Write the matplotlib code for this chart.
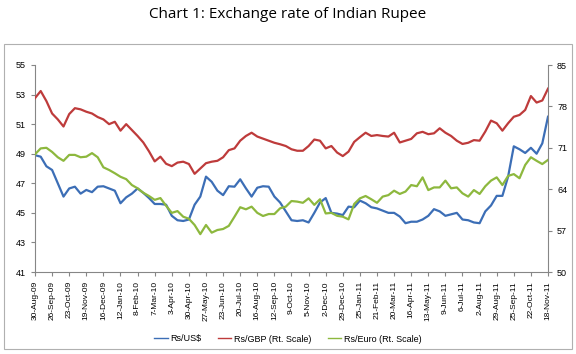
#Chart 1: exchange rate of Indian Rupee (Rs/US$ left scale, Rs/GBP and Rs/Euro right scale)
import numpy as np
import pandas as pd
import matplotlib
matplotlib.use('Agg')
from matplotlib import pyplot as plt
from matplotlib.patches import Rectangle

#readings every 9 days starting 30-Aug-09
start_date = '2009-08-30'
step_days = 9

usd = [48.9, 48.8, 48.15, 47.9, 47.0, 46.1, 46.65, 46.77, 46.3, 46.55,
       46.4, 46.77, 46.8, 46.65, 46.5, 45.65, 46.05, 46.3, 46.65, 46.35,
       46.0, 45.6, 45.6, 45.55, 44.8, 44.5, 44.45, 44.55, 45.55, 46.1,
       47.45, 47.1, 46.5, 46.2, 46.8, 46.77, 47.27, 46.66, 46.1, 46.7,
       46.8, 46.77, 46.1, 45.7, 45.1, 44.5, 44.45, 44.5, 44.35, 45.0,
       45.7, 46.0, 45.0, 44.95, 44.85, 45.42, 45.38, 45.83, 45.65, 45.38,
       45.3, 45.15, 45.0, 45.0, 44.75, 44.3, 44.4, 44.4, 44.55, 44.8,
       45.25, 45.1, 44.8, 44.9, 45.0, 44.55, 44.5, 44.35, 44.3, 45.1,
       45.5, 46.15, 46.15, 47.45, 49.5, 49.3, 49.05, 49.4, 49.0, 49.7,
       51.5]

gbp = [79.4, 80.6, 78.9, 76.8, 75.8, 74.6, 76.7, 77.7, 77.5, 77.1,
       76.8, 76.2, 75.8, 75.0, 75.4, 73.9, 75.0, 74.0, 73.0, 71.9,
       70.4, 68.7, 69.5, 68.3, 67.9, 68.5, 68.65, 68.26, 66.6, 67.5,
       68.4, 68.65, 68.8, 69.4, 70.6, 70.9, 72.2, 73.0, 73.55, 72.9,
       72.55, 72.2, 71.85, 71.6, 71.3, 70.75, 70.5, 70.5, 71.3, 72.4,
       72.2, 70.9, 71.3, 70.2, 69.6, 70.35, 72.0, 72.8, 73.55, 73.0,
       73.15, 73.0, 72.9, 73.55, 71.9, 72.2, 72.5, 73.45, 73.7, 73.3,
       73.45, 74.3, 73.55, 73.0, 72.2, 71.65, 71.85, 72.3, 72.2, 73.75,
       75.6, 75.15, 73.9, 75.15, 76.25, 76.55, 77.4, 79.75, 78.65, 79.0,
       81.0]

eur = [69.9, 70.9, 71.0, 70.3, 69.4, 68.8, 69.8, 69.8, 69.4, 69.5,
       70.1, 69.4, 67.7, 67.25, 66.7, 66.1, 65.7, 64.7, 64.15, 63.4,
       62.85, 62.2, 62.5, 61.2, 60.0, 60.3, 59.35, 59.0, 57.95, 56.4,
       57.95, 56.65, 57.1, 57.27, 57.8, 59.35, 60.95, 60.6, 61.05, 60.0,
       59.47, 59.8, 59.8, 60.77, 61.05, 62.0, 61.9, 61.7, 62.45, 61.35,
       62.3, 59.9, 60.0, 59.5, 59.35, 58.9, 61.5, 62.45, 62.85, 62.3,
       61.7, 62.75, 63.0, 63.75, 63.2, 63.6, 64.7, 64.5, 66.0, 63.85,
       64.3, 64.3, 65.45, 64.15, 64.3, 63.3, 62.75, 63.85, 63.2, 64.5,
       65.45, 66.0, 64.7, 66.25, 66.55, 65.85, 68.1, 69.4, 68.8, 68.25,
       68.95]

dates = pd.date_range(start_date, periods=len(usd), freq='%dD' % step_days)

#x tick labels every 27 days
tick_dates = pd.date_range('2009-08-30', '2011-11-18', freq='27D')
tick_labels = ['%d-%s' % (d.day, d.strftime('%b-%y')) for d in tick_dates]

left_ticks = [41, 43, 45, 47, 49, 51, 53, 55]
right_ticks = [50, 57, 64, 71, 78, 85]

c_usd = '#3C6EB6'
c_gbp = '#BE3B3B'
c_eur = '#8DB83E'
axis_col = '#868686'

plt.rcParams['font.family'] = 'Liberation Sans'

fig = plt.figure(figsize=(5.76, 3.54), dpi=100)
ax = fig.add_axes([35/576, 1-272/354, 513/576, 207/354])
ax2 = ax.twinx()

l1, = ax.plot(dates, usd, color=c_usd, lw=1.6, label='Rs/US$')
l2, = ax2.plot(dates, gbp, color=c_gbp, lw=1.6, label='Rs/GBP (Rt. Scale)')
l3, = ax2.plot(dates, eur, color=c_eur, lw=1.6, label='Rs/Euro (Rt. Scale)')

ax.set_xlim(tick_dates[0], tick_dates[-1])
ax.set_ylim(41, 55)
ax2.set_ylim(50, 85)
ax.set_yticks(left_ticks)
ax2.set_yticks(right_ticks)
ax.set_xticks(tick_dates)
ax.set_xticklabels(tick_labels, rotation=90, fontsize=6)

for a in (ax, ax2):
    a.spines['top'].set_visible(False)
    for s in ('left', 'right', 'bottom'):
        a.spines[s].set_color(axis_col)
        a.spines[s].set_linewidth(0.8)
    a.tick_params(colors=axis_col, labelcolor='black', length=3, width=0.8)
    a.tick_params(axis='y', labelsize=6.5)
ax.spines['right'].set_visible(False)
ax2.spines['left'].set_visible(False)
ax2.spines['bottom'].set_visible(False)

fig.text(0.5, 1-14/354, 'Chart 1: Exchange rate of Indian Rupee', ha='center', va='center',
         fontsize=11, family='Open Sans')

fig.legend(handles=[l1, l2, l3], loc='center', bbox_to_anchor=(288/576, 1-339/354), ncol=3,
           frameon=False, fontsize=6.5, handlelength=1.5, columnspacing=1.8, handletextpad=0.3)
for h in fig.legends[0].get_lines():
    h.set_linewidth(1.0)

#outer chart border
fig.patches.append(Rectangle((4/576, 1-349/354), 568/576, 305/354, transform=fig.transFigure,
                             fill=False, edgecolor='#B0B0B0', lw=0.8))

fig.savefig('out.png', dpi=100)
